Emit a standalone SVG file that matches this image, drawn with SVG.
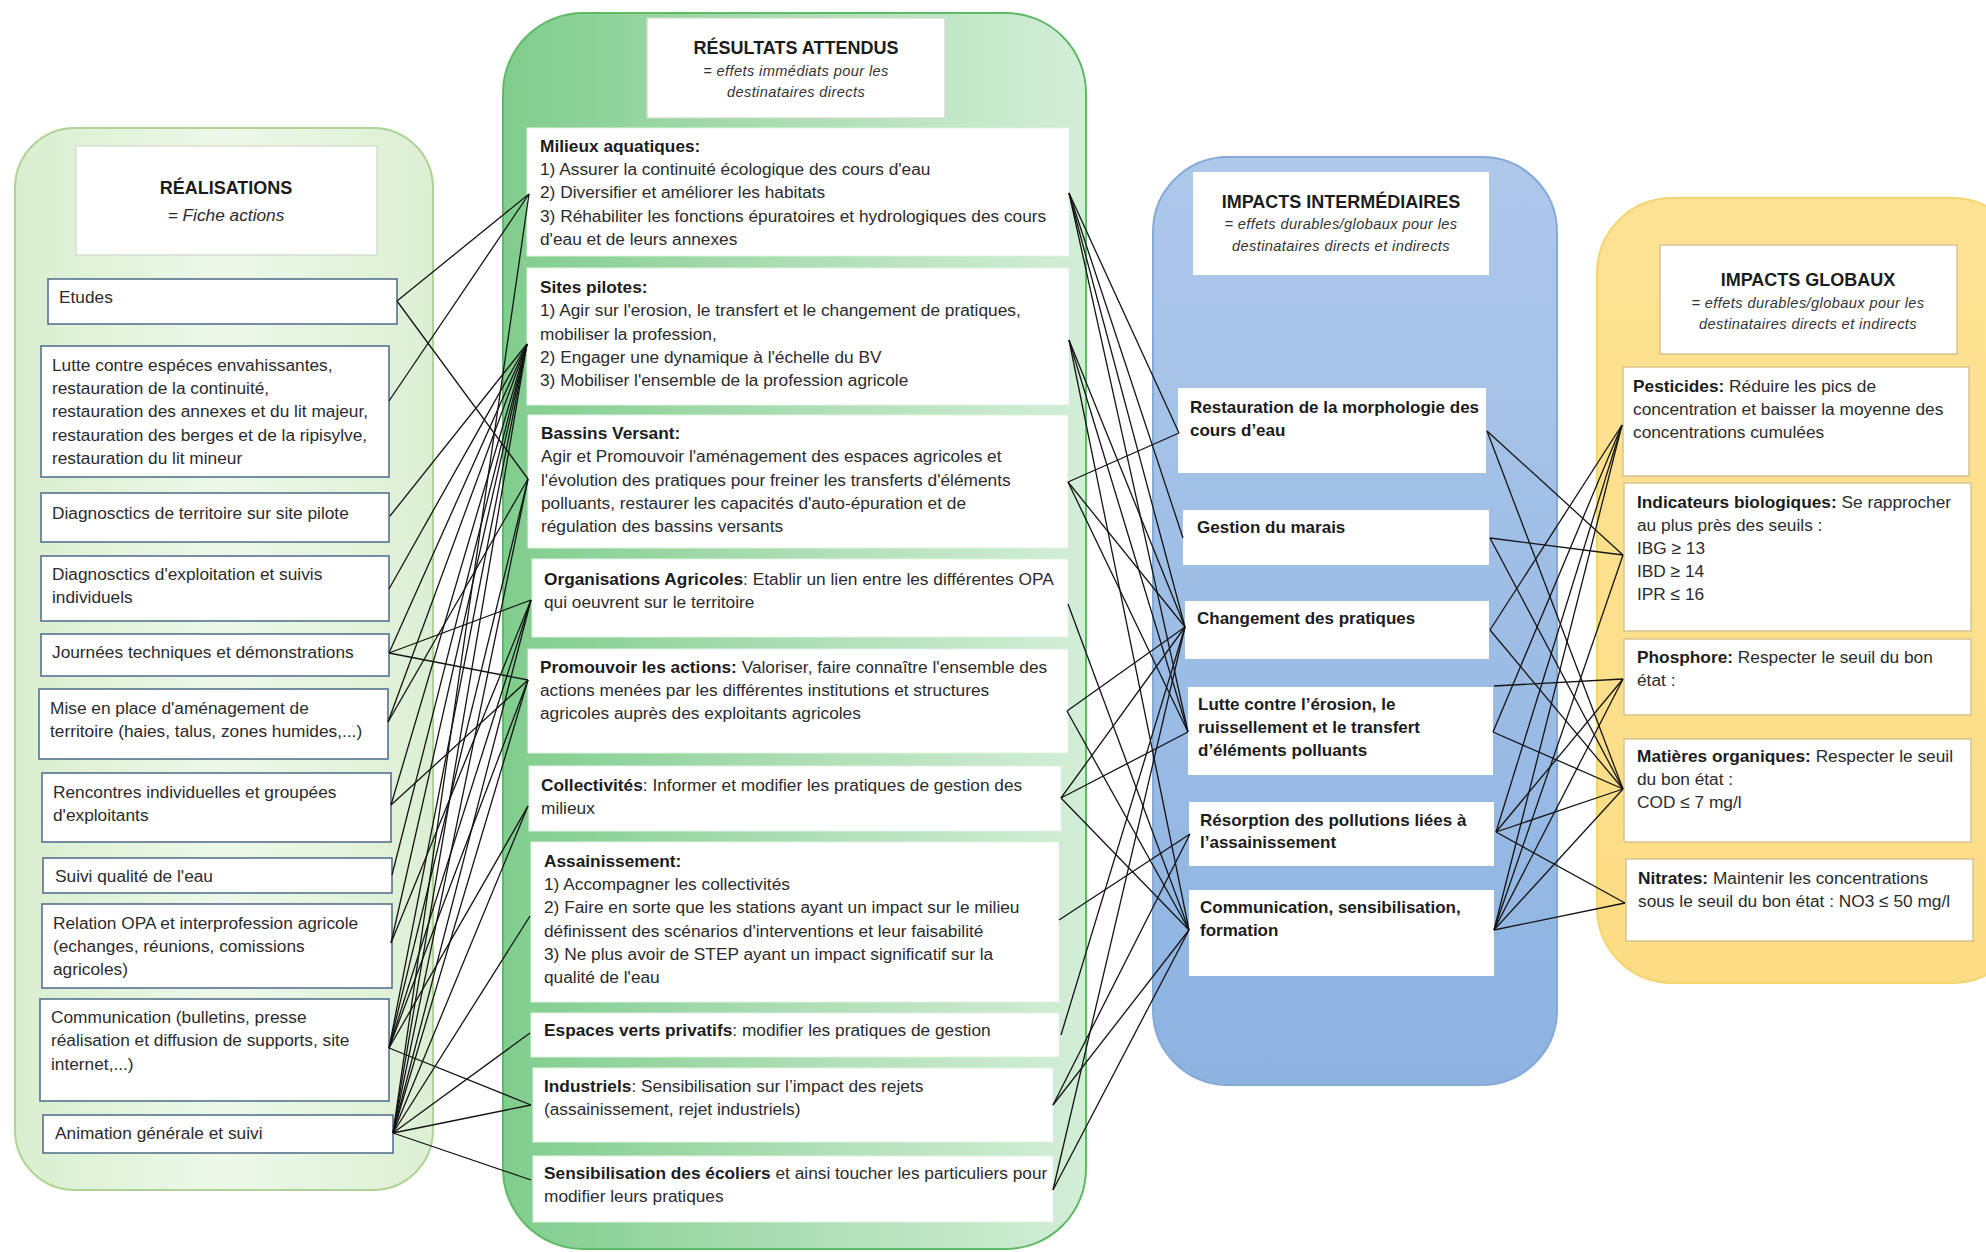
<svg xmlns="http://www.w3.org/2000/svg" width="1986" height="1252" viewBox="0 0 1986 1252">
<defs>
<linearGradient id="g1" x1="0" y1="0" x2="1" y2="0">
<stop offset="0" stop-color="#d9eecf"/><stop offset="0.5" stop-color="#eef8ea"/><stop offset="1" stop-color="#dcefd3"/>
</linearGradient>
<linearGradient id="g2" x1="0" y1="0" x2="1" y2="0">
<stop offset="0" stop-color="#80cd8d"/><stop offset="0.45" stop-color="#a9dcb1"/><stop offset="1" stop-color="#d3eed7"/>
</linearGradient>
<linearGradient id="g3" x1="0" y1="0" x2="0" y2="1">
<stop offset="0" stop-color="#aec8ea"/><stop offset="1" stop-color="#8db3e1"/>
</linearGradient>
<linearGradient id="g4" x1="0" y1="0" x2="0" y2="1">
<stop offset="0" stop-color="#fde294"/><stop offset="1" stop-color="#fbdd85"/>
</linearGradient>
</defs>
<style>
text{font-family:"Liberation Sans",Arial,sans-serif;fill:#2b2b2b;font-size:17.3px}
.b{font-weight:bold;fill:#1c1c1c}
.t{font-weight:bold;font-size:18px;fill:#1c1c1c;text-anchor:middle}
.st{font-style:italic;font-size:14.6px;text-anchor:middle;letter-spacing:0.4px;fill:#333}
.p3{font-weight:bold;font-size:17px;fill:#1c1c1c}
.b1{fill:#fff;stroke:#55728e;stroke-width:1.6}
.b2{fill:#fff;stroke:#e2f1e4;stroke-width:1}
.b3{fill:#fff;stroke:none}
.b4{fill:#fff;stroke:#d6c48e;stroke-width:1.5}
.hd{fill:#fff;stroke:#cfd9c8;stroke-width:1.2}
.conn line{stroke:#141414;stroke-width:1.3}
</style>

<!-- Panels -->
<g id="panel-realisations">
<rect x="15" y="128" width="418" height="1062" rx="60" fill="url(#g1)" stroke="#add494" stroke-width="2"/>
<rect class="hd" x="76" y="146" width="301" height="109"/>
<text class="t" x="226" y="194">RÉALISATIONS</text>
<text x="226" y="221" text-anchor="middle" font-style="italic" font-size="20.5px">= Fiche actions</text>
</g>
<g id="panel-resultats">
<rect x="503" y="13" width="583" height="1236" rx="80" fill="url(#g2)" stroke="#5fba66" stroke-width="2"/>
<rect class="hd" x="647" y="18" width="298" height="100"/>
<text class="t" x="796" y="54">RÉSULTATS ATTENDUS</text>
<text class="st" x="796" y="76">= effets immédiats pour les</text>
<text class="st" x="796" y="97">destinataires directs</text>
</g>
<g id="panel-intermediaires">
<rect x="1153" y="157" width="404" height="928" rx="75" fill="url(#g3)" stroke="#86aad8" stroke-width="2"/>
<rect class="b3" x="1193" y="172" width="296" height="103"/>
<text class="t" x="1341" y="208">IMPACTS INTERMÉDIAIRES</text>
<text class="st" x="1341" y="229">= effets durables/globaux pour les</text>
<text class="st" x="1341" y="251">destinataires directs et indirects</text>
</g>
<g id="panel-globaux">
<rect x="1597" y="198" width="430" height="785" rx="75" fill="url(#g4)" stroke="#f2d56f" stroke-width="2"/>
<rect class="b4" x="1660" y="245" width="297" height="109"/>
<text class="t" x="1808" y="286">IMPACTS GLOBAUX</text>
<text class="st" x="1808" y="308">= effets durables/globaux pour les</text>
<text class="st" x="1808" y="329">destinataires directs et indirects</text>
</g>

<!-- Réalisations nodes -->
<g id="r-etudes"><rect class="b1" x="48" y="279" width="349" height="45"/><text x="59" y="303">Etudes</text></g>
<g id="r-lutte"><rect class="b1" x="41" y="346" width="348" height="131"/>
<text x="52" y="371">Lutte contre espéces envahissantes,</text>
<text x="52" y="394">restauration de la continuité,</text>
<text x="52" y="417">restauration des annexes et du lit majeur,</text>
<text x="52" y="441">restauration des berges et de la ripisylve,</text>
<text x="52" y="464">restauration du lit mineur</text></g>
<g id="r-diag-territoire"><rect class="b1" x="41" y="493" width="348" height="49"/><text x="52" y="519">Diagnosctics  de territoire sur site pilote</text></g>
<g id="r-diag-exploitation"><rect class="b1" x="41" y="556" width="348" height="65"/><text x="52" y="580">Diagnosctics  d'exploitation et suivis</text><text x="52" y="603">individuels</text></g>
<g id="r-journees"><rect class="b1" x="41" y="634" width="348" height="42"/><text x="52" y="658">Journées techniques et démonstrations</text></g>
<g id="r-mise"><rect class="b1" x="39" y="689" width="349" height="70"/><text x="50" y="714">Mise en place d'aménagement de</text><text x="50" y="737">territoire (haies, talus, zones humides,...)</text></g>
<g id="r-rencontres"><rect class="b1" x="42" y="773" width="349" height="69"/><text x="53" y="798">Rencontres individuelles et groupées</text><text x="53" y="821">d'exploitants</text></g>
<g id="r-suivi"><rect class="b1" x="43" y="858" width="349" height="35"/><text x="55" y="882">Suivi qualité de l'eau</text></g>
<g id="r-relation"><rect class="b1" x="42" y="904" width="350" height="84"/><text x="53" y="929">Relation OPA et interprofession agricole</text><text x="53" y="952">(echanges, réunions, comissions</text><text x="53" y="975">agricoles)</text></g>
<g id="r-communication"><rect class="b1" x="40" y="999" width="349" height="102"/><text x="51" y="1023">Communication (bulletins, presse</text><text x="51" y="1046">réalisation et diffusion de supports, site</text><text x="51" y="1070">internet,...)</text></g>
<g id="r-animation"><rect class="b1" x="43" y="1115" width="350" height="38"/><text x="55" y="1139">Animation générale et suivi</text></g>

<!-- Résultats nodes -->
<g id="ra-milieux"><rect class="b2" x="527" y="128" width="542" height="128"/>
<text x="540" y="152" class="b">Milieux aquatiques:</text>
<text x="540" y="175">1) Assurer la continuité écologique des cours d'eau</text>
<text x="540" y="198">2) Diversifier et améliorer les habitats</text>
<text x="540" y="222">3) Réhabiliter les fonctions épuratoires et hydrologiques des cours</text>
<text x="540" y="245">d'eau et de leurs annexes</text></g>
<g id="ra-sites"><rect class="b2" x="527" y="268" width="542" height="137"/>
<text x="540" y="293" class="b">Sites pilotes:</text>
<text x="540" y="316">1) Agir sur l'erosion, le transfert et le changement de pratiques,</text>
<text x="540" y="340">mobiliser la profession,</text>
<text x="540" y="363">2) Engager une dynamique à l'échelle du BV</text>
<text x="540" y="386">3) Mobiliser l'ensemble de la profession agricole</text></g>
<g id="ra-bassins"><rect class="b2" x="528" y="415" width="540" height="133"/>
<text x="541" y="439" class="b">Bassins Versant:</text>
<text x="541" y="462">Agir et Promouvoir l'aménagement des espaces agricoles et</text>
<text x="541" y="486">l'évolution des pratiques pour freiner les transferts d'éléments</text>
<text x="541" y="509">polluants, restaurer les capacités d'auto-épuration et de</text>
<text x="541" y="532">régulation des bassins versants</text></g>
<g id="ra-organisations"><rect class="b2" x="532" y="559" width="536" height="78"/>
<text x="544" y="585"><tspan class="b">Organisations Agricoles</tspan>: Etablir  un lien entre les différentes OPA</text>
<text x="544" y="608">qui oeuvrent sur le territoire</text></g>
<g id="ra-promouvoir"><rect class="b2" x="528" y="649" width="540" height="104"/>
<text x="540" y="673"><tspan class="b">Promouvoir les actions:</tspan> Valoriser, faire connaître l'ensemble des</text>
<text x="540" y="696">actions menées par les différentes institutions et structures</text>
<text x="540" y="719">agricoles auprès des exploitants agricoles</text></g>
<g id="ra-collectivites"><rect class="b2" x="529" y="766" width="532" height="65"/>
<text x="541" y="791"><tspan class="b">Collectivités</tspan>: Informer et modifier les pratiques de gestion des</text>
<text x="541" y="814">milieux</text></g>
<g id="ra-assainissement"><rect class="b2" x="531" y="842" width="528" height="160"/>
<text x="544" y="867" class="b">Assainissement:</text>
<text x="544" y="890">1) Accompagner les collectivités</text>
<text x="544" y="913">2) Faire en sorte que les stations ayant un impact sur le milieu</text>
<text x="544" y="937">définissent des scénarios d'interventions et leur faisabilité</text>
<text x="544" y="960">3) Ne plus avoir de STEP ayant un impact significatif sur la</text>
<text x="544" y="983">qualité de l'eau</text></g>
<g id="ra-espaces"><rect class="b2" x="531" y="1013" width="528" height="44"/>
<text x="544" y="1036"><tspan class="b">Espaces verts privatifs</tspan>: modifier les pratiques de gestion</text></g>
<g id="ra-industriels"><rect class="b2" x="533" y="1068" width="520" height="74"/>
<text x="544" y="1092"><tspan class="b">Industriels</tspan>: Sensibilisation sur l’impact des rejets</text>
<text x="544" y="1115">(assainissement, rejet industriels)</text></g>
<g id="ra-ecoliers"><rect class="b2" x="533" y="1156" width="520" height="66"/>
<text x="544" y="1179"><tspan class="b">Sensibilisation des écoliers</tspan> et ainsi toucher les particuliers pour</text>
<text x="544" y="1202">modifier leurs pratiques</text></g>

<!-- Impacts intermédiaires nodes -->
<g id="ii-restauration"><rect class="b3" x="1178" y="388" width="308" height="85"/><text class="p3" x="1190" y="413">Restauration de la morphologie des</text><text class="p3" x="1190" y="436">cours d’eau</text></g>
<g id="ii-marais"><rect class="b3" x="1183" y="510" width="306" height="55"/><text class="p3" x="1197" y="533">Gestion du marais</text></g>
<g id="ii-pratiques"><rect class="b3" x="1185" y="601" width="304" height="58"/><text class="p3" x="1197" y="624">Changement des pratiques</text></g>
<g id="ii-erosion"><rect class="b3" x="1188" y="687" width="305" height="88"/><text class="p3" x="1198" y="710">Lutte contre l’érosion, le</text><text class="p3" x="1198" y="733">ruissellement et le transfert</text><text class="p3" x="1198" y="756">d’éléments polluants</text></g>
<g id="ii-resorption"><rect class="b3" x="1189" y="802" width="305" height="64"/><text class="p3" x="1200" y="826">Résorption des pollutions liées à</text><text class="p3" x="1200" y="848">l’assainissement</text></g>
<g id="ii-communication"><rect class="b3" x="1189" y="890" width="305" height="86"/><text class="p3" x="1200" y="913">Communication, sensibilisation,</text><text class="p3" x="1200" y="936">formation</text></g>

<!-- Impacts globaux nodes -->
<g id="ig-pesticides"><rect class="b4" x="1623" y="367" width="346" height="109"/>
<text x="1633" y="392"><tspan class="b">Pesticides:</tspan> Réduire les pics de</text>
<text x="1633" y="415">concentration et baisser la moyenne des</text>
<text x="1633" y="438">concentrations cumulées</text></g>
<g id="ig-indicateurs"><rect class="b4" x="1624" y="483" width="347" height="148"/>
<text x="1637" y="508"><tspan class="b">Indicateurs biologiques:</tspan> Se rapprocher</text>
<text x="1637" y="531">au plus près des seuils :</text>
<text x="1637" y="554">IBG ≥ 13</text>
<text x="1637" y="577">IBD ≥ 14</text>
<text x="1637" y="600">IPR ≤ 16</text></g>
<g id="ig-phosphore"><rect class="b4" x="1624" y="639" width="347" height="76"/>
<text x="1637" y="663"><tspan class="b">Phosphore:</tspan> Respecter le seuil du bon</text>
<text x="1637" y="686">état :</text></g>
<g id="ig-matieres"><rect class="b4" x="1624" y="739" width="347" height="103"/>
<text x="1637" y="762"><tspan class="b">Matières organiques:</tspan> Respecter le seuil</text>
<text x="1637" y="785">du bon état :</text>
<text x="1637" y="808">COD ≤ 7 mg/l</text></g>
<g id="ig-nitrates"><rect class="b4" x="1626" y="859" width="347" height="82"/>
<text x="1638" y="884"><tspan class="b">Nitrates:</tspan> Maintenir les concentrations</text>
<text x="1638" y="907">sous le seuil du bon état : NO3 ≤ 50 mg/l</text></g>

<!-- Connectors -->
<g id="connectors" class="conn">
<!-- Réalisations -> Résultats -->
<line x1="397" y1="301" x2="529" y2="194"/>
<line x1="397" y1="301" x2="528" y2="479"/>
<line x1="389" y1="401" x2="529" y2="194"/>
<line x1="390" y1="516" x2="527" y2="344"/>
<line x1="389" y1="589" x2="527" y2="344"/>
<line x1="389" y1="653" x2="527" y2="344"/>
<line x1="389" y1="653" x2="531" y2="600"/>
<line x1="389" y1="653" x2="528" y2="680"/>
<line x1="388" y1="722" x2="527" y2="344"/>
<line x1="388" y1="722" x2="528" y2="479"/>
<line x1="391" y1="805" x2="527" y2="344"/>
<line x1="391" y1="805" x2="528" y2="680"/>
<line x1="392" y1="875" x2="527" y2="344"/>
<line x1="391" y1="943" x2="527" y2="344"/>
<line x1="391" y1="943" x2="531" y2="600"/>
<line x1="389" y1="1048" x2="527" y2="344"/>
<line x1="389" y1="1048" x2="528" y2="479"/>
<line x1="389" y1="1048" x2="531" y2="600"/>
<line x1="389" y1="1048" x2="528" y2="680"/>
<line x1="389" y1="1048" x2="528" y2="806"/>
<line x1="389" y1="1048" x2="531" y2="1105"/>
<line x1="393" y1="1133" x2="529" y2="194"/>
<line x1="393" y1="1133" x2="527" y2="344"/>
<line x1="393" y1="1133" x2="528" y2="479"/>
<line x1="393" y1="1133" x2="531" y2="600"/>
<line x1="393" y1="1133" x2="528" y2="680"/>
<line x1="393" y1="1133" x2="528" y2="806"/>
<line x1="393" y1="1133" x2="530" y2="916"/>
<line x1="393" y1="1133" x2="530" y2="1033"/>
<line x1="393" y1="1133" x2="531" y2="1105"/>
<line x1="393" y1="1133" x2="531" y2="1180"/>
<!-- Résultats -> Impacts intermédiaires -->
<line x1="1069" y1="193" x2="1179" y2="433"/>
<line x1="1069" y1="193" x2="1183" y2="538"/>
<line x1="1069" y1="193" x2="1185" y2="627"/>
<line x1="1069" y1="193" x2="1188" y2="732"/>
<line x1="1069" y1="340" x2="1185" y2="627"/>
<line x1="1069" y1="340" x2="1188" y2="732"/>
<line x1="1069" y1="340" x2="1189" y2="930"/>
<line x1="1068" y1="482" x2="1179" y2="433"/>
<line x1="1068" y1="482" x2="1185" y2="627"/>
<line x1="1068" y1="482" x2="1188" y2="732"/>
<line x1="1068" y1="604" x2="1189" y2="930"/>
<line x1="1067" y1="711" x2="1189" y2="930"/>
<line x1="1067" y1="711" x2="1185" y2="627"/>
<line x1="1061" y1="798" x2="1185" y2="627"/>
<line x1="1061" y1="798" x2="1188" y2="732"/>
<line x1="1061" y1="798" x2="1189" y2="930"/>
<line x1="1059" y1="920" x2="1190" y2="834"/>
<line x1="1061" y1="1035" x2="1185" y2="627"/>
<line x1="1053" y1="1105" x2="1190" y2="834"/>
<line x1="1053" y1="1105" x2="1189" y2="930"/>
<line x1="1053" y1="1190" x2="1189" y2="930"/>
<line x1="1053" y1="1190" x2="1185" y2="627"/>
<!-- Impacts intermédiaires -> Impacts globaux -->
<line x1="1487" y1="431" x2="1623" y2="555"/>
<line x1="1487" y1="431" x2="1623" y2="789"/>
<line x1="1490" y1="538" x2="1623" y2="555"/>
<line x1="1490" y1="538" x2="1623" y2="789"/>
<line x1="1490" y1="630" x2="1622" y2="425"/>
<line x1="1490" y1="630" x2="1623" y2="789"/>
<line x1="1493" y1="732" x2="1622" y2="425"/>
<line x1="1493" y1="732" x2="1623" y2="789"/>
<line x1="1494" y1="686" x2="1623" y2="679"/>
<line x1="1496" y1="832" x2="1622" y2="425"/>
<line x1="1496" y1="832" x2="1623" y2="679"/>
<line x1="1496" y1="832" x2="1623" y2="789"/>
<line x1="1496" y1="832" x2="1625" y2="903"/>
<line x1="1494" y1="930" x2="1622" y2="425"/>
<line x1="1494" y1="930" x2="1623" y2="555"/>
<line x1="1494" y1="930" x2="1623" y2="679"/>
<line x1="1494" y1="930" x2="1623" y2="789"/>
<line x1="1494" y1="930" x2="1625" y2="903"/>
</g>
</svg>
